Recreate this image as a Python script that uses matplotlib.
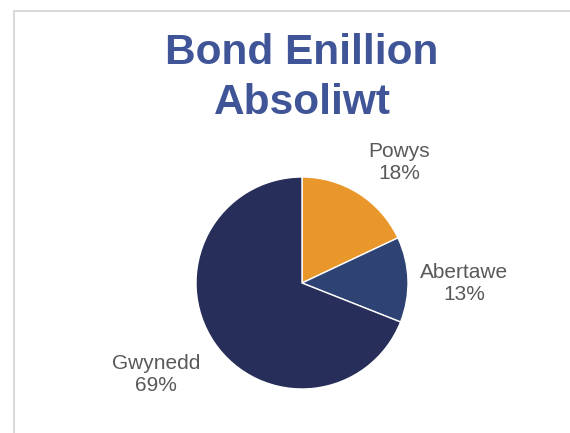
import matplotlib.pyplot as plt
from matplotlib.lines import Line2D

regions = ["Powys", "Abertawe", "Gwynedd"]
shares = [18, 13, 69]
colors = ["#E9972A", "#2F4274", "#262E59"]

W, H = 570, 433
fig = plt.figure(figsize=(W / 100, H / 100), dpi=100)
fig.patch.set_facecolor("white")

# chart-area border (top and left edges visible)
fig.add_artist(Line2D([13.5 / W, 13.5 / W], [0, 1 - 10.5 / H], color="#D9D9D9", lw=1.5))
fig.add_artist(Line2D([13.5 / W, 1], [1 - 10.5 / H, 1 - 10.5 / H], color="#D9D9D9", lw=1.5))

cx, cy, r = 302, 283, 106
ax = fig.add_axes([(cx - r) / W, (H - cy - r) / H, 2 * r / W, 2 * r / H])
labels = [f"{n}\n{v}%" for n, v in zip(regions, shares)]
wedges, texts = ax.pie(shares, colors=colors, startangle=90, counterclock=False,
                       labels=labels, radius=1,
                       wedgeprops=dict(edgecolor="white", linewidth=1))
ax.set_xlim(-1, 1)
ax.set_ylim(-1, 1)
ax.set_aspect("equal")
ax.axis("off")

label_pos = [(0.92, 1.14), (1.53, 0.0), (-1.38, -0.86)]
for t, p in zip(texts, label_pos):
    t.set_position(p)
    t.set_ha("center")
    t.set_va("center")
    t.set_fontsize(15)
    t.set_color("#595959")
    t.set_family("Liberation Sans")
    t.set_linespacing(1.2)
    t.set_clip_on(False)

fig.text(302 / W, 1 - 78 / H, "Bond Enillion\nAbsoliwt", ha="center", va="center",
         fontsize=30.5, fontweight="bold", color="#3F5597", family="Liberation Sans",
         linespacing=1.3)

fig.savefig("out.png", dpi=100)
